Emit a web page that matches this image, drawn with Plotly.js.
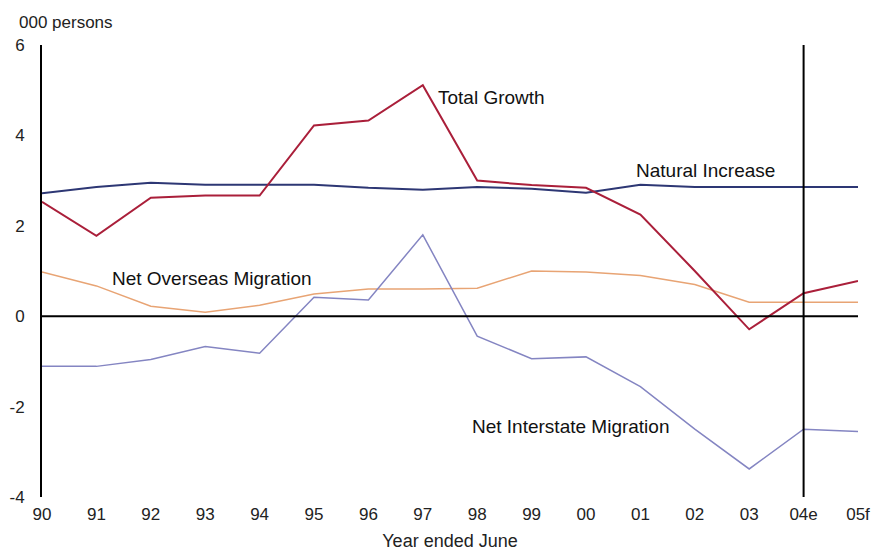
<!DOCTYPE html>
<html>
<head>
<meta charset="utf-8">
<script src="https://cdn.plot.ly/plotly-3.0.1.min.js"></script>
<style>html,body{margin:0;padding:0;background:#fff;}#chart{width:876px;height:556px;}</style>
</head>
<body>
<div id="chart"></div>
<script>
var years = ['90','91','92','93','94','95','96','97','98','99','00','01','02','03','04e','05f'];
var totalGrowth = [2.53, 1.78, 2.62, 2.67, 2.67, 4.22, 4.33, 5.11, 3.0, 2.9, 2.84, 2.25, 1.0, -0.29, 0.51, 0.78];
var naturalIncrease = [2.72, 2.86, 2.95, 2.91, 2.91, 2.91, 2.84, 2.8, 2.86, 2.82, 2.73, 2.91, 2.86, 2.86, 2.86, 2.86];
var netOverseas = [0.98, 0.67, 0.22, 0.09, 0.24, 0.49, 0.6, 0.6, 0.62, 1.0, 0.98, 0.9, 0.7, 0.31, 0.31, 0.31];
var netInterstate = [-1.11, -1.11, -0.96, -0.67, -0.82, 0.42, 0.36, 1.8, -0.44, -0.94, -0.9, -1.56, -2.5, -3.38, -2.5, -2.55];
var yTickVals = [-4, -2, 0, 2, 4, 6];
var yTickText = ['-4', '-2', '0', '2', '4', '6'];

var FONT = '"Liberation Sans", Arial, sans-serif';

function tr(y, color, width) {
  return {x: years, y: y, type: 'scatter', mode: 'lines', line: {color: color, width: width}, hoverinfo: 'skip'};
}
var data = [
  tr(netOverseas, '#e8a474', 1.5),
  tr(netInterstate, '#8485c2', 1.5),
  tr(naturalIncrease, '#2d3774', 2),
  tr(totalGrowth, '#aa1f3a', 2)
];

var labelFont = {family: FONT, size: 19, color: '#111'};

var layout = {
  width: 876, height: 556,
  margin: {l: 42, r: 18, t: 45, b: 59},
  paper_bgcolor: '#fff', plot_bgcolor: '#fff',
  showlegend: false,
  font: {family: FONT, size: 17, color: '#222'},
  xaxis: {
    type: 'category', range: [0, 15], showgrid: false, zeroline: false,
    showline: false, ticks: 'outside', ticklen: 2, tickcolor: 'rgba(0,0,0,0)',
    tickfont: {family: FONT, size: 17, color: '#222'},
    title: {text: 'Year ended June', font: {family: FONT, size: 18, color: '#222'}, standoff: 10}
  },
  yaxis: {
    range: [-4, 6], tickmode: 'array', tickvals: yTickVals, ticktext: yTickText,
    showgrid: false, zeroline: false,
    showline: true, linecolor: '#000', linewidth: 2,
    ticks: 'outside', ticklen: 12, tickcolor: 'rgba(0,0,0,0)',
    tickfont: {family: FONT, size: 17, color: '#222'}
  },
  shapes: [
    {type: 'line', xref: 'paper', x0: 0, x1: 1, yref: 'y', y0: 0, y1: 0, line: {color: '#000', width: 2}},
    {type: 'line', xref: 'x', x0: 14, x1: 14, yref: 'y', y0: -4, y1: 6, line: {color: '#000', width: 2}}
  ],
  annotations: [
    {text: '000 persons', xref: 'paper', yref: 'paper', x: -0.031, y: 1.024, xanchor: 'left', yanchor: 'bottom', showarrow: false, font: {family: FONT, size: 17, color: '#222'}},
    {text: 'Total Growth', xref: 'x', yref: 'y', x: 7.24, y: 4.84, xanchor: 'left', yanchor: 'middle', showarrow: false, font: labelFont},
    {text: 'Natural Increase', xref: 'x', yref: 'y', x: 10.88, y: 3.22, xanchor: 'left', yanchor: 'middle', showarrow: false, font: labelFont},
    {text: 'Net Overseas Migration', xref: 'x', yref: 'y', x: 1.25, y: 0.84, xanchor: 'left', yanchor: 'middle', showarrow: false, font: labelFont},
    {text: 'Net Interstate Migration', xref: 'x', yref: 'y', x: 7.86, y: -2.44, xanchor: 'left', yanchor: 'middle', showarrow: false, font: labelFont}
  ]
};

Plotly.newPlot('chart', data, layout, {displayModeBar: false, staticPlot: true});
</script>
</body>
</html>
